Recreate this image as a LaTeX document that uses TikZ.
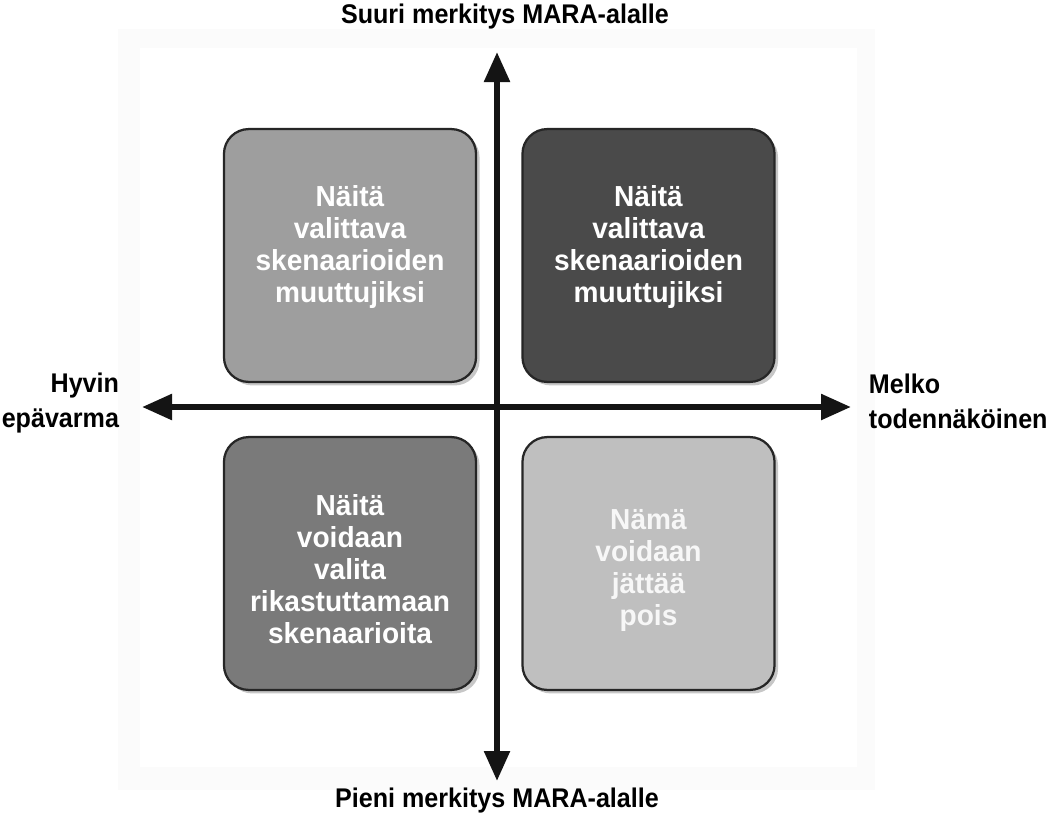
\documentclass[tikz,border=0pt]{standalone}
\usepackage{fontspec}
\setmainfont{Liberation Sans}[FakeStretch=0.93]
\newfontfamily\quadfont{Liberation Sans}[FakeStretch=0.97]
\usetikzlibrary{arrows.meta,shadows}
\tikzset{
  quad/.style={draw=black!85,line width=1.6pt,rounded corners=0.62cm,minimum width=6.3cm,minimum height=6.32cm,
    drop shadow={shadow xshift=2.5pt,shadow yshift=-2.5pt,opacity=0.22,fill=black}},
  quadA/.style={quad,fill=black!38},
  quadB/.style={quad,fill=black!71},
  quadC/.style={quad,fill=black!52},
  quadD/.style={quad,fill=black!25},
  quadtxt/.style={align=center,text=white,font=\quadfont\fontsize{20.6pt}{22.7pt}\selectfont\bfseries},
  axis/.style={{Triangle[length=0.75cm,width=0.62cm]}-{Triangle[length=0.75cm,width=0.62cm]},line width=4.3pt,black!92},
  lbl/.style={font=\fontsize{19.2pt}{24.8pt}\selectfont\bfseries}
}
\begin{document}
\begin{tikzpicture}[x=0.025cm,y=-0.025cm]
  \useasboundingbox (0,0) rectangle (1056,816);
  % backdrop
  \fill[black!1.5] (118,29) rectangle (875,790);
  \fill[white] (140,48) rectangle (857,767);

  % quadrants
  \node[quadA] (tl) at (350,255.5) {};
  \node[quadB] (tr) at (648.5,255.5) {};
  \node[quadC] (bl) at (350,563.5) {};
  \node[quadD] (br) at (648.5,563.5) {};
  \node[quadtxt] (tltxt) at ([yshift=6pt]tl.center) {Näitä\\valittava\\skenaarioiden\\muuttujiksi};
  \node[quadtxt] (trtxt) at ([yshift=6pt]tr.center) {Näitä\\valittava\\skenaarioiden\\muuttujiksi};
  \node[quadtxt] (bltxt) at ([yshift=-4pt]bl.center) {Näitä\\voidaan\\valita\\rikastuttamaan\\skenaarioita};
  \node[quadtxt,text=black!3] (brtxt) at ([yshift=-5pt]br.center) {Nämä\\voidaan\\jättää\\pois};

  % axes
  \coordinate (top) at (497,52);
  \coordinate (bot) at (497,781);
  \coordinate (lft) at (142,407);
  \coordinate (rgt) at (851,407);
  \draw[axis] (bot) -- (top);
  \draw[axis] (lft) -- (rgt);

  % axis labels
  \node[lbl] (hi) at (505,17) {Suuri merkitys MARA-alalle};
  \node[lbl] (lo) at (497,801) {Pieni merkitys MARA-alalle};
  \node[lbl,align=right,anchor=east] (unc) at (124,403) {Hyvin\\epävarma};
  \node[lbl,align=left,anchor=west] (lik) at (864,401) {Melko\\todennäköinen};
\end{tikzpicture}
\end{document}
